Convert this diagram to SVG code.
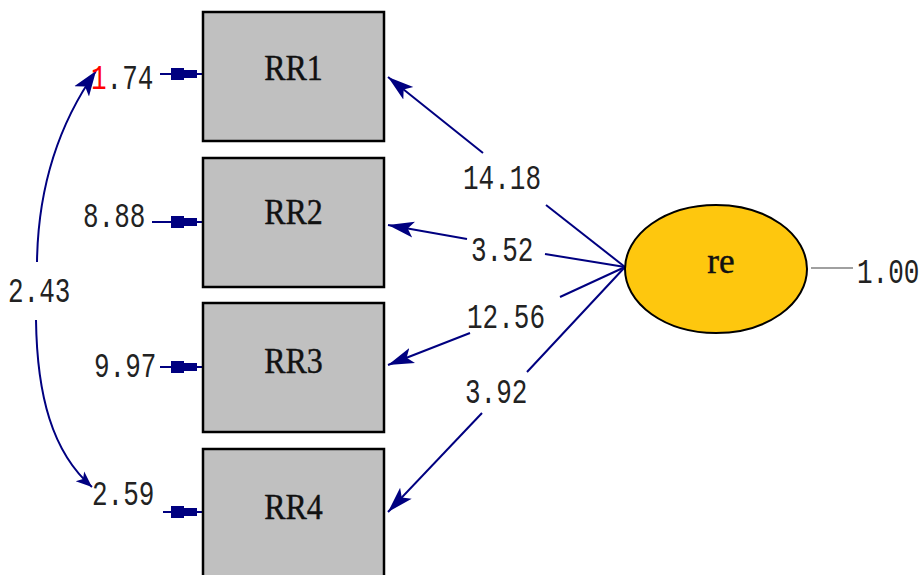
<svg xmlns="http://www.w3.org/2000/svg" width="921" height="575" viewBox="0 0 921 575">
<style>
.box{fill:#c0c0c0;stroke:#000;stroke-width:2.5}
.lbl{font-family:"Liberation Serif",serif;font-size:32px;fill:#111;stroke:#111;stroke-width:0.4;text-anchor:middle}
.num{font-family:"Liberation Mono",monospace;font-size:26px;fill:#222}
.ln{fill:none;stroke:#000080;stroke-width:2}
.ah{fill:#000080}
</style>
<defs>
<marker id="arr" markerUnits="userSpaceOnUse" markerWidth="27" markerHeight="18" refX="26" refY="9" orient="auto">
<path d="M0,1 L26,9 L0,17 L6,9 z" class="ah"/>
</marker>
<marker id="carr" markerUnits="userSpaceOnUse" markerWidth="26" markerHeight="20" refX="25" refY="10" orient="auto-start-reverse">
<path d="M0,1 L25,10 L0,19 L6,10 z" class="ah"/>
</marker>
<marker id="carr2" markerUnits="userSpaceOnUse" markerWidth="17" markerHeight="15" refX="16" refY="7.5" orient="auto">
<path d="M0,1 L16,7.5 L0,14 L4,7.5 z" class="ah"/>
</marker>
<path id="eb" d="M171,-6 h13 v2 h13 v8 h-13 v2 h-13 z" class="ah"/>
</defs>

<g id="connectors">
<g id="err1"><line x1="160" y1="74" x2="203" y2="74" class="ln"/><use href="#eb" transform="translate(0,74)"/></g>
<g id="err2"><line x1="152" y1="222" x2="203" y2="222" class="ln"/><use href="#eb" transform="translate(0,222)"/></g>
<g id="err3"><line x1="160" y1="367" x2="203" y2="367" class="ln"/><use href="#eb" transform="translate(0,367)"/></g>
<g id="err4"><line x1="163" y1="512" x2="203" y2="512" class="ln"/><use href="#eb" transform="translate(0,512)"/></g>
<path d="M96,71 C58,125 38,190 37,262" class="ln" marker-start="url(#carr)"/>
<path d="M36,320 C37,395 52,452 92,487" class="ln" marker-end="url(#carr2)"/>
<line x1="625" y1="267" x2="546" y2="205" class="ln"/>
<line x1="483" y1="153" x2="388" y2="77" class="ln" marker-end="url(#arr)"/>
<line x1="625" y1="267" x2="545" y2="254" class="ln"/>
<line x1="467" y1="239" x2="388" y2="225" class="ln" marker-end="url(#arr)"/>
<line x1="625" y1="267" x2="560" y2="297" class="ln"/>
<line x1="470" y1="333" x2="388" y2="365" class="ln" marker-end="url(#arr)"/>
<line x1="625" y1="267" x2="527" y2="372" class="ln"/>
<line x1="482" y1="413" x2="388" y2="512" class="ln" marker-end="url(#arr)"/>
<line x1="811" y1="268" x2="853" y2="268" stroke="#a0a0a0" stroke-width="2"/>
</g>

<g id="RR1"><rect x="203" y="12" width="181" height="129" class="box"/><text class="lbl" transform="translate(293.5,80) scale(1,1.1)">RR1</text></g>
<g id="RR2"><rect x="203" y="158" width="181" height="129" class="box"/><text class="lbl" transform="translate(293.5,224) scale(1,1.1)">RR2</text></g>
<g id="RR3"><rect x="203" y="303" width="181" height="129" class="box"/><text class="lbl" transform="translate(293.5,373) scale(1,1.1)">RR3</text></g>
<g id="RR4"><rect x="203" y="449" width="181" height="140" class="box"/><text class="lbl" transform="translate(293.5,519) scale(1,1.1)">RR4</text></g>
<g id="re"><ellipse cx="716" cy="269" rx="91" ry="64" fill="#fec70e" stroke="#000" stroke-width="2"/><text class="lbl" transform="translate(721,273) scale(1.1,1.1)">re</text></g>

<g id="labels">
<text class="num" transform="translate(91,89) scale(1,1.35)"><tspan fill="#ff0000">1</tspan>.74</text>
<text class="num" transform="translate(83,227) scale(1,1.35)">8.88</text>
<text class="num" transform="translate(94,377) scale(1,1.35)">9.97</text>
<text class="num" transform="translate(92,505) scale(1,1.35)">2.59</text>
<text class="num" transform="translate(8,302) scale(1,1.35)">2.43</text>
<text class="num" transform="translate(463,189) scale(1,1.35)">14.18</text>
<text class="num" transform="translate(471,261) scale(1,1.35)">3.52</text>
<text class="num" transform="translate(467,328) scale(1,1.35)">12.56</text>
<text class="num" transform="translate(465,403) scale(1,1.35)">3.92</text>
<text class="num" transform="translate(857,283) scale(1,1.35)">1.00</text>
</g>
</svg>
